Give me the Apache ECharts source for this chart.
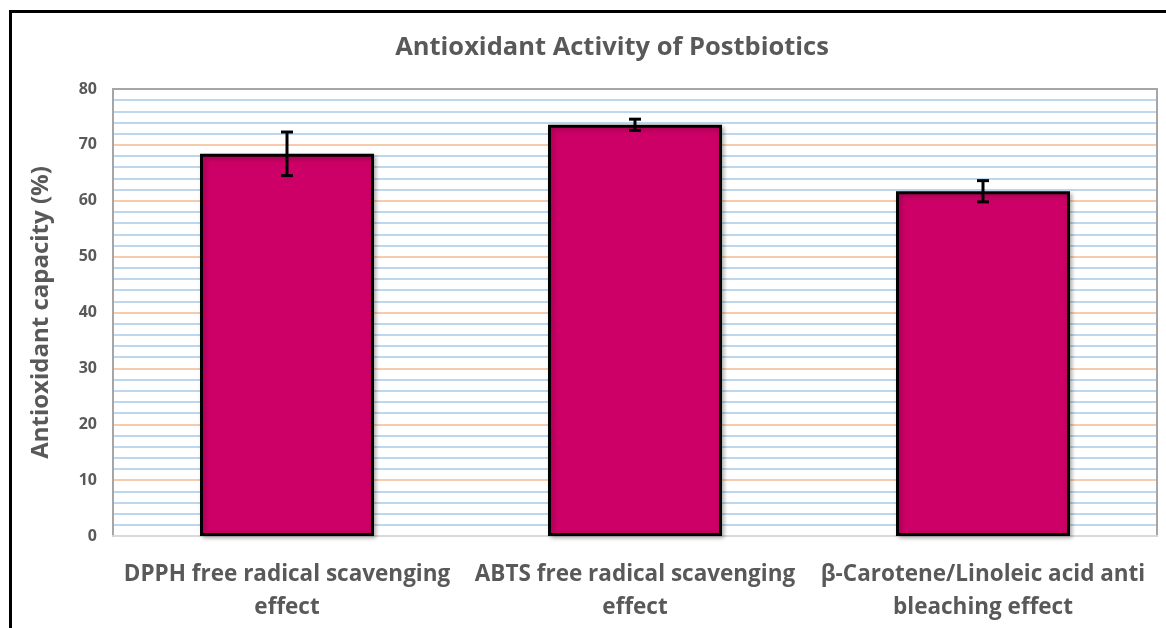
<!DOCTYPE html>
<html><head><meta charset="utf-8">
<script src="https://cdn.jsdelivr.net/npm/echarts@6/dist/echarts.min.js"></script>
<style>html,body{margin:0;padding:0;background:#fff}#c{width:1166px;height:628px}
#frame{position:absolute;left:9px;top:10px;width:1170px;height:640px;border:3px solid #000;box-sizing:border-box;pointer-events:none}</style>
</head><body><div id="c"></div><div id="frame"></div>
<script>
const categories = ['DPPH free radical scavenging\neffect', 'ABTS free radical scavenging\neffect', 'β-Carotene/Linoleic acid anti\nbleaching effect'];
const values = [68.4, 73.6, 61.7];
const errors = [3.9, 1.0, 1.9];
const yTicks = [0, 10, 20, 30, 40, 50, 60, 70, 80];

const chart = echarts.init(document.getElementById('c'));
const font = '"Open Sans", "Noto Sans", sans-serif';
chart.setOption({
  animation: false,
  title: { text: 'Antioxidant Activity of Postbiotics', left: 607, top: 30, textAlign: 'center',
    textStyle: { fontFamily: font, fontSize: 25.5, fontWeight: 'bold', color: '#595959' } },
  grid: { left: 113, right: 9, top: 89, bottom: 92, containLabel: false,
    show: true, borderColor: '#a6a6a6', borderWidth: 2, backgroundColor: 'transparent' },
  xAxis: {
    type: 'category', data: categories,
    axisLine: { show: true, lineStyle: { color: '#d9d9d9', width: 2 } },
    axisTick: { show: false },
    axisLabel: { fontFamily: font, fontSize: 22.5, fontWeight: 'bold', color: '#595959', lineHeight: 33, margin: 22, interval: 0 },
    splitLine: { show: false }
  },
  yAxis: [{
    type: 'value', min: 0, max: 80, interval: 2,
    name: 'Antioxidant capacity (%)', nameLocation: 'middle', nameGap: 60, nameRotate: 90,
    nameTextStyle: { fontFamily: font, fontSize: 24, fontWeight: 'bold', color: '#595959' },
    axisLine: { show: true, lineStyle: { color: '#a6a6a6', width: 2 } },
    axisTick: { show: false },
    axisLabel: { fontFamily: font, fontSize: 16, fontWeight: 'bold', color: '#595959', margin: 16,
      formatter: v => (yTicks.indexOf(v) >= 0 ? String(v) : '') },
    splitLine: { show: true, lineStyle: { color: '#bdd7ee', width: 2 } }
  }, {
    type: 'value', min: 0, max: 80, interval: 10, position: 'right',
    axisLine: { show: true, lineStyle: { color: '#a6a6a6', width: 2 } },
    axisTick: { show: false }, axisLabel: { show: false },
    splitLine: { show: true, lineStyle: { color: '#f8cbad', width: 2 } }
  }],
  series: [{
    type: 'bar', data: values, barWidth: '50%', z: 3,
    itemStyle: { color: '#cc0066', borderColor: '#000', borderWidth: 3,
      shadowColor: 'rgba(0,0,0,0.25)', shadowBlur: 4, shadowOffsetX: 2, shadowOffsetY: 2 }
  }, {
    type: 'custom', z: 5,
    data: values.map((v, i) => [i, v - errors[i], v + errors[i]]),
    renderItem: (params, api) => {
      const x = api.coord([api.value(0), 0])[0];
      const lo = api.coord([api.value(0), api.value(1)])[1];
      const hi = api.coord([api.value(0), api.value(2)])[1];
      const hw = 6;
      const st = { stroke: '#000', lineWidth: 3 };
      return { type: 'group', children: [
        { type: 'line', shape: { x1: x, y1: lo, x2: x, y2: hi }, style: st },
        { type: 'line', shape: { x1: x - hw, y1: lo, x2: x + hw, y2: lo }, style: st },
        { type: 'line', shape: { x1: x - hw, y1: hi, x2: x + hw, y2: hi }, style: st }
      ]};
    }
  }]
});
// gray top border of the plot area, drawn over the split line at the max value
const topY = chart.convertToPixel({ yAxisIndex: 0 }, 80);
const x0 = chart.convertToPixel({ xAxisIndex: 0 }, 0) - 0;
const g = chart.getModel().getComponent('grid').coordinateSystem.getRect();
chart.setOption({ graphic: [{ type: 'line', z: 10,
  shape: { x1: g.x, y1: topY, x2: g.x + g.width, y2: topY },
  style: { stroke: '#a6a6a6', lineWidth: 2 } }] });
</script></body></html>
